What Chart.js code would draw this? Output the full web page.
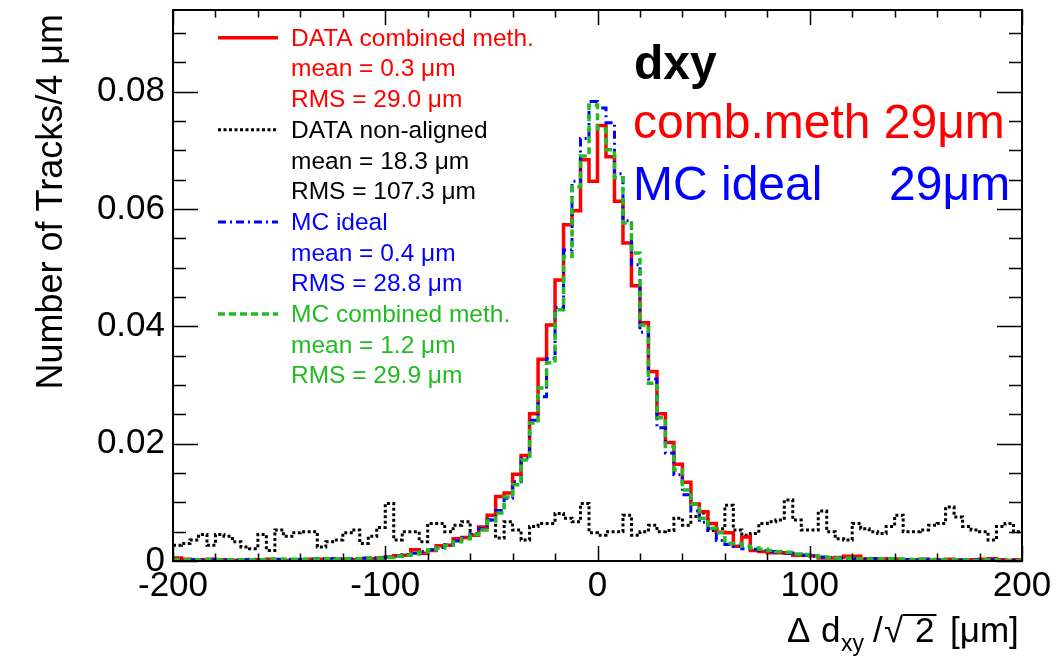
<!DOCTYPE html>
<html>
<head>
<meta charset="utf-8">
<title>dxy residuals</title>
<script src="https://cdn.jsdelivr.net/npm/chart.js@4.4.1/dist/chart.umd.min.js"></script>
<style>
  html, body { margin: 0; padding: 0; background: #ffffff; }
  #wrap { width: 1059px; height: 656px; }
  canvas { display: block; }
</style>
</head>
<body>
<div id="wrap"><canvas id="c" width="1059" height="656"></canvas></div>
<script>
// Histogram binning: 100 bins of 4 um from -200 to 200 um
const xMin = -200;
const binWidth = 4;
const nBins = 100;

// Normalised track fractions per bin (left edge = xMin + i*binWidth)
const dataCombined = [
  0.0005, 0.0003, 0.0002, 0.0002, 0.0003, 0.0002, 0.0002, 0.0001, 0.0002, 0.0002,
  0.0002, 0.0003, 0.0001, 0.0001, 0.0001, 0.0001, 0.0003, 0.0003, 0.0004, 0.0003,
  0.0003, 0.0002, 0.0002, 0.0004, 0.0005, 0.0007, 0.0009, 0.0010, 0.0019, 0.0013,
  0.0018, 0.0026, 0.0027, 0.0038, 0.0040, 0.0044, 0.0058, 0.0078, 0.0110, 0.0116,
  0.0148, 0.0180, 0.0251, 0.0344, 0.0402, 0.0479, 0.0573, 0.0597, 0.0684, 0.0647,
  0.0742, 0.0689, 0.0613, 0.0542, 0.0469, 0.0406, 0.0323, 0.0251, 0.0202, 0.0165,
  0.0134, 0.0097, 0.0084, 0.0064, 0.0049, 0.0048, 0.0025, 0.0041, 0.0018, 0.0016,
  0.0014, 0.0014, 0.0013, 0.0010, 0.0010, 0.0009, 0.0005, 0.0005, 0.0006, 0.0008,
  0.0008, 0.0004, 0.0004, 0.0003, 0.0004, 0.0003, 0.0002, 0.0002, 0.0003, 0.0002,
  0.0002, 0.0003, 0.0002, 0.0001, 0.0002, 0.0003, 0.0004, 0.0002, 0.0001, 0.0002
];

const dataNonAligned = [
  0.0027, 0.0030, 0.0036, 0.0045, 0.0027, 0.0045, 0.0042, 0.0033, 0.0024, 0.0021,
  0.0045, 0.0018, 0.0053, 0.0042, 0.0048, 0.0050, 0.0050, 0.0024, 0.0033, 0.0036,
  0.0048, 0.0053, 0.0030, 0.0042, 0.0057, 0.0098, 0.0036, 0.0050, 0.0050, 0.0033,
  0.0064, 0.0064, 0.0050, 0.0061, 0.0067, 0.0045, 0.0057, 0.0070, 0.0039, 0.0067,
  0.0053, 0.0036, 0.0059, 0.0064, 0.0064, 0.0081, 0.0073, 0.0067, 0.0098, 0.0048,
  0.0044, 0.0050, 0.0050, 0.0078, 0.0044, 0.0050, 0.0061, 0.0050, 0.0052, 0.0073,
  0.0061, 0.0076, 0.0082, 0.0052, 0.0055, 0.0095, 0.0053, 0.0044, 0.0047, 0.0064,
  0.0067, 0.0070, 0.0104, 0.0070, 0.0053, 0.0053, 0.0085, 0.0050, 0.0038, 0.0036,
  0.0064, 0.0055, 0.0050, 0.0047, 0.0059, 0.0078, 0.0050, 0.0050, 0.0053, 0.0061,
  0.0064, 0.0092, 0.0075, 0.0059, 0.0053, 0.0050, 0.0036, 0.0059, 0.0064, 0.0050
];

const mcIdeal = [
  0.0002, 0.0001, 0.0002, 0.0002, 0.0002, 0.0001, 0.0002, 0.0002, 0.0002, 0.0003,
  0.0002, 0.0002, 0.0003, 0.0003, 0.0002, 0.0003, 0.0003, 0.0004, 0.0003, 0.0004,
  0.0003, 0.0004, 0.0005, 0.0005, 0.0006, 0.0007, 0.0008, 0.0011, 0.0013, 0.0016,
  0.0019, 0.0023, 0.0028, 0.0034, 0.0040, 0.0047, 0.0055, 0.0070, 0.0086, 0.0107,
  0.0135, 0.0175, 0.0240, 0.0280, 0.0345, 0.0432, 0.0530, 0.0647, 0.0720, 0.0783,
  0.0772, 0.0747, 0.0660, 0.0580, 0.0505, 0.0390, 0.0310, 0.0227, 0.0184, 0.0147,
  0.0113, 0.0085, 0.0066, 0.0055, 0.0035, 0.0028, 0.0025, 0.0021, 0.0020, 0.0018,
  0.0016, 0.0015, 0.0013, 0.0011, 0.0010, 0.0008, 0.0007, 0.0006, 0.0005, 0.0004,
  0.0004, 0.0003, 0.0004, 0.0003, 0.0003, 0.0003, 0.0002, 0.0002, 0.0002, 0.0003,
  0.0002, 0.0002, 0.0001, 0.0002, 0.0002, 0.0001, 0.0002, 0.0001, 0.0001, 0.0001
];

const mcCombined = [
  0.0002, 0.0002, 0.0002, 0.0001, 0.0002, 0.0002, 0.0002, 0.0002, 0.0002, 0.0002,
  0.0002, 0.0003, 0.0002, 0.0003, 0.0003, 0.0003, 0.0003, 0.0003, 0.0004, 0.0003,
  0.0004, 0.0004, 0.0004, 0.0005, 0.0005, 0.0006, 0.0008, 0.0010, 0.0012, 0.0015,
  0.0019, 0.0022, 0.0027, 0.0033, 0.0038, 0.0045, 0.0053, 0.0068, 0.0082, 0.0109,
  0.0130, 0.0172, 0.0235, 0.0295, 0.0338, 0.0428, 0.0519, 0.0638, 0.0690, 0.0777,
  0.0736, 0.0701, 0.0653, 0.0576, 0.0525, 0.0402, 0.0303, 0.0244, 0.0195, 0.0155,
  0.0121, 0.0097, 0.0073, 0.0056, 0.0048, 0.0030, 0.0030, 0.0025, 0.0022, 0.0020,
  0.0018, 0.0016, 0.0015, 0.0012, 0.0011, 0.0009, 0.0007, 0.0006, 0.0005, 0.0005,
  0.0004, 0.0004, 0.0003, 0.0003, 0.0004, 0.0003, 0.0003, 0.0002, 0.0003, 0.0002,
  0.0002, 0.0002, 0.0002, 0.0002, 0.0001, 0.0002, 0.0002, 0.0001, 0.0001, 0.0001
];

// Axis ranges and tick labels
const xRange = [-200, 200];
const yRange = [0, 0.0939];
const xTickLabels = ['-200', '-100', '0', '100', '200'];
const yTickLabels = ['0', '0.02', '0.04', '0.06', '0.08'];

// Legend entries (text lines per series)
const legendLabels = [
  ['DATA combined meth.', 'mean = 0.3 \u03bcm', 'RMS = 29.0 \u03bcm'],
  ['DATA non-aligned', 'mean = 18.3 \u03bcm', 'RMS = 107.3 \u03bcm'],
  ['MC ideal', 'mean = 0.4 \u03bcm', 'RMS = 28.8 \u03bcm'],
  ['MC combined meth.', 'mean = 1.2 \u03bcm', 'RMS = 29.9 \u03bcm']
];

const FONT = "'Liberation Sans', Arial, Helvetica, sans-serif";
const RED = '#ff0000', BLACK = '#000000', BLUE = '#0000ff', GREEN = '#22bb22';

// Histogram outline points: one at each bin's left edge plus the final right edge
function histPoints(values) {
  const pts = values.map((v, i) => ({ x: xMin + i * binWidth, y: v }));
  pts.push({ x: xMin + nBins * binWidth, y: values[values.length - 1] });
  return pts;
}

const seriesStyle = [
  { color: RED,   dash: [],            width: 3.5 },
  { color: BLACK, dash: [3, 2.5],      width: 3 },
  { color: BLUE,  dash: [8, 4, 2, 4],  width: 3 },
  { color: GREEN, dash: [7, 4],        width: 3.5 }
];
const seriesValues = [dataCombined, dataNonAligned, mcIdeal, mcCombined];

// Draw order: first dataset ends up on top, so list green, blue, red, black
const drawOrder = [3, 2, 0, 1];
const datasets = drawOrder.map(k => ({
  label: legendLabels[k][0],
  data: histPoints(seriesValues[k]),
  borderColor: seriesStyle[k].color,
  borderDash: seriesStyle[k].dash,
  borderWidth: seriesStyle[k].width,
  backgroundColor: 'transparent',
  fill: false,
  stepped: true,
  pointRadius: 0,
  borderCapStyle: 'butt',
  borderJoinStyle: 'miter'
}));

// Frame, inner tick marks, titles, legend and text boxes
const decorations = {
  id: 'decorations',
  afterDraw(chart) {
    const { ctx, chartArea: a, scales } = chart;
    const xs = scales.x, ys = scales.y;
    ctx.save();

    // tick marks pointing into the frame on all four sides
    ctx.strokeStyle = '#000';
    ctx.lineWidth = 1.5;
    ctx.beginPath();
    for (let v = xRange[0]; v <= xRange[1] + 1e-9; v += 20) {
      const px = Math.round(xs.getPixelForValue(v)) + 0.5;
      const len = (Math.abs(v % 100) < 1e-9) ? 15 : 7.5;
      ctx.moveTo(px, a.bottom); ctx.lineTo(px, a.bottom - len);
      ctx.moveTo(px, a.top); ctx.lineTo(px, a.top + len);
    }
    for (let k = 0; k * 0.005 <= yRange[1] + 1e-12; k++) {
      const v = k * 0.005;
      const py = Math.round(ys.getPixelForValue(v)) + 0.5;
      const len = (k % 4 === 0) ? 25 : 13;
      ctx.moveTo(a.left, py); ctx.lineTo(a.left + len, py);
      ctx.moveTo(a.right, py); ctx.lineTo(a.right - len, py);
    }
    ctx.stroke();

    // frame
    ctx.lineWidth = 2;
    ctx.strokeRect(a.left, a.top, a.right - a.left, a.bottom - a.top);

    // y-axis title
    ctx.fillStyle = '#000';
    ctx.font = '36px ' + FONT;
    ctx.save();
    ctx.translate(62, a.top + 4);
    ctx.rotate(-Math.PI / 2);
    ctx.textAlign = 'right';
    ctx.textBaseline = 'alphabetic';
    ctx.fillText('Number of Tracks/4 \u03bcm', 0, 0);
    ctx.restore();

    // x-axis title: Δ d_xy /√2 [μm]
    const big = '35px ' + FONT, small = '23px ' + FONT;
    const base = 642;
    ctx.textAlign = 'left';
    ctx.font = big;
    ctx.fillText('\u0394', 787, base);
    ctx.fillText('d', 821, base);
    ctx.font = small;
    ctx.fillText('xy', 841, base + 9);
    ctx.font = big;
    ctx.fillText('/', 873, base);
    const rootX = 884;
    ctx.fillText('\u221a', rootX, base);
    const rm = ctx.measureText('\u221a');
    const barY = base - rm.actualBoundingBoxAscent + 1;
    const barX0 = rootX + rm.actualBoundingBoxRight - 1;
    ctx.fillText('2', barX0 + 12, base);
    const twoW = ctx.measureText('2').width;
    ctx.lineWidth = 1.8;
    ctx.beginPath();
    ctx.moveTo(barX0, barY);
    ctx.lineTo(barX0 + 14 + twoW, barY);
    ctx.stroke();
    ctx.fillText('[\u03bcm]', 950, base);

    // legend: line sample + three text lines per series
    const lx0 = 218, lx1 = 278, tx = 291, firstBase = 45.7, step = 30.7;
    ctx.font = '24.5px ' + FONT;
    ctx.textAlign = 'left';
    legendLabels.forEach((lines, k) => {
      const st = seriesStyle[k];
      const rowBase = firstBase + step * 3 * k;
      ctx.strokeStyle = st.color;
      ctx.lineWidth = st.width;
      ctx.setLineDash(st.dash);
      ctx.beginPath();
      ctx.moveTo(lx0, rowBase - 8);
      ctx.lineTo(lx1, rowBase - 8);
      ctx.stroke();
      ctx.setLineDash([]);
      ctx.fillStyle = st.color;
      lines.forEach((s, j) => ctx.fillText(s, tx, rowBase + step * j));
    });

    // resolution summary text
    ctx.fillStyle = '#000';
    ctx.font = 'bold 48px ' + FONT;
    ctx.fillText('dxy', 634, 79);
    ctx.font = '48px ' + FONT;
    ctx.fillStyle = RED;
    ctx.fillText('comb.meth 29\u03bcm', 633, 138);
    ctx.fillStyle = BLUE;
    ctx.fillText('MC ideal     29\u03bcm', 633, 200);

    ctx.restore();
  }
};

const chart = new Chart(document.getElementById('c'), {
  type: 'line',
  data: { datasets },
  options: {
    responsive: false,
    animation: false,
    events: [],
    layout: { padding: { top: 10, right: 37, left: 0, bottom: 0 } },
    plugins: { legend: { display: false }, tooltip: { enabled: false } },
    scales: {
      x: {
        type: 'linear',
        min: xRange[0],
        max: xRange[1],
        grid: { display: false, drawTicks: false },
        border: { display: false },
        ticks: {
          stepSize: 100,
          autoSkip: false,
          maxRotation: 0,
          padding: 4,
          color: '#000',
          font: { family: FONT, size: 35 },
          callback: (v) => {
            const i = Math.round((v - xRange[0]) / 100);
            return xTickLabels[i] !== undefined ? xTickLabels[i] : '';
          }
        },
        afterFit: (s) => { s.height = 95; s.paddingLeft = 0; s.paddingRight = 0; }
      },
      y: {
        type: 'linear',
        min: yRange[0],
        max: yRange[1],
        grid: { display: false, drawTicks: false },
        border: { display: false },
        ticks: {
          stepSize: 0.02,
          includeBounds: false,
          padding: 8,
          color: '#000',
          font: { family: FONT, size: 35 },
          callback: (v) => {
            const i = Math.round(v / 0.02);
            if (Math.abs(v - i * 0.02) > 1e-9) return '';
            return yTickLabels[i] !== undefined ? yTickLabels[i] : '';
          }
        },
        afterFit: (s) => { s.width = 173; s.paddingTop = 0; s.paddingBottom = 0; }
      }
    }
  },
  plugins: [decorations]
});
</script>
</body>
</html>
